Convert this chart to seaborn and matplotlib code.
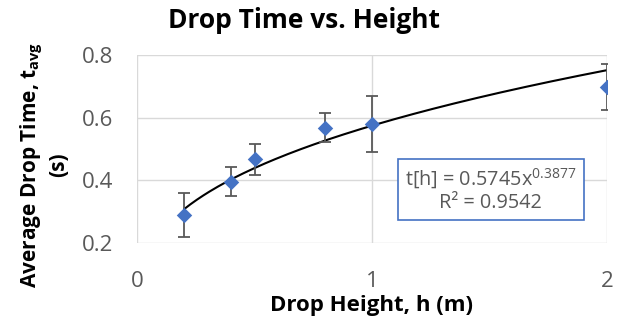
import numpy as np
import pandas as pd
import matplotlib
matplotlib.use('Agg')
import matplotlib.pyplot as plt
import seaborn as sns

# measured data
heights = [0.2, 0.4, 0.5, 0.8, 1.0, 2.0]
avg_times = [0.289, 0.396, 0.467, 0.568, 0.579, 0.697]
time_errs = [0.071, 0.047, 0.050, 0.047, 0.090, 0.073]

# power-law trendline from the chart
fit_a = 0.5745
fit_b = 0.3877
fit_r2 = 0.9542

x_ticks = [0, 1, 2]
y_ticks = [0.2, 0.4, 0.6, 0.8]

sns.set_theme(style='whitegrid')
plt.rcParams['font.family'] = ['Open Sans', 'DejaVu Sans']
plt.rcParams['mathtext.fontset'] = 'custom'
plt.rcParams['mathtext.rm'] = 'Open Sans'
plt.rcParams['mathtext.bf'] = 'Open Sans:bold'

df = pd.DataFrame({'h': heights, 't': avg_times, 'err': time_errs})

fig = plt.figure(figsize=(6.23, 3.24), dpi=100)
ax = fig.add_axes([137 / 623, 1 - 243 / 324, 470 / 623, 188 / 324])
ax.set_facecolor('white')

# trendline
xs = np.linspace(min(heights), max(heights), 200)
sns.lineplot(x=xs, y=fit_a * xs ** fit_b, ax=ax, color='black', lw=1.5, zorder=2)

# error bars
ax.errorbar(df['h'], df['t'], yerr=df['err'], fmt='none', ecolor='#595959',
            elinewidth=1.3, capsize=4.3, capthick=1.3, zorder=3)

# points
sns.scatterplot(data=df, x='h', y='t', ax=ax, marker='D', s=62,
                color='#4472C4', edgecolor='#4472C4', linewidth=0, zorder=4)

ax.set_xlim(0, 2)
ax.set_ylim(0.2, 0.8)
ax.set_xticks(x_ticks)
ax.set_yticks(y_ticks)
ax.set_xticklabels([str(v) for v in x_ticks])
ax.set_yticklabels([f'{v:.1f}' for v in y_ticks])
ax.tick_params(axis='x', pad=20, labelsize=16, colors='#595959', length=0)
ax.tick_params(axis='y', pad=17, labelsize=16, colors='#595959', length=0)
ax.grid(True, color='#d9d9d9', lw=1)
for s in ax.spines.values():
    s.set_visible(False)
ax.set_xlabel('')
ax.set_ylabel('')

fig.text(0.488, 1 - 20 / 324, 'Drop Time vs. Height', ha='center', va='center',
         fontsize=19, fontweight='bold', color='black')
fig.text(372 / 623, 1 - 306 / 324, 'Drop Height, h (m)', ha='center', va='center',
         fontsize=16, fontweight='bold', color='black')
fig.text(44 / 623, 1 - 165 / 324,
         'Average Drop Time, t$_{\\mathbf{avg}}$\n(s)', ha='center', va='center',
         rotation=90, fontsize=15, fontweight='bold', color='black',
         multialignment='center', linespacing=1.15)

ax.text(1.506, 0.369,
        f't[h] = {fit_a}x$^{{{fit_b}}}$\nR² = {fit_r2}',
        ha='center', va='center', fontsize=14.3, color='#595959',
        multialignment='center', linespacing=1.15,
        bbox=dict(boxstyle='square,pad=0.35', fc='white', ec='#4472C4', lw=1.2),
        zorder=5)

fig.savefig('out.png', dpi=100)
